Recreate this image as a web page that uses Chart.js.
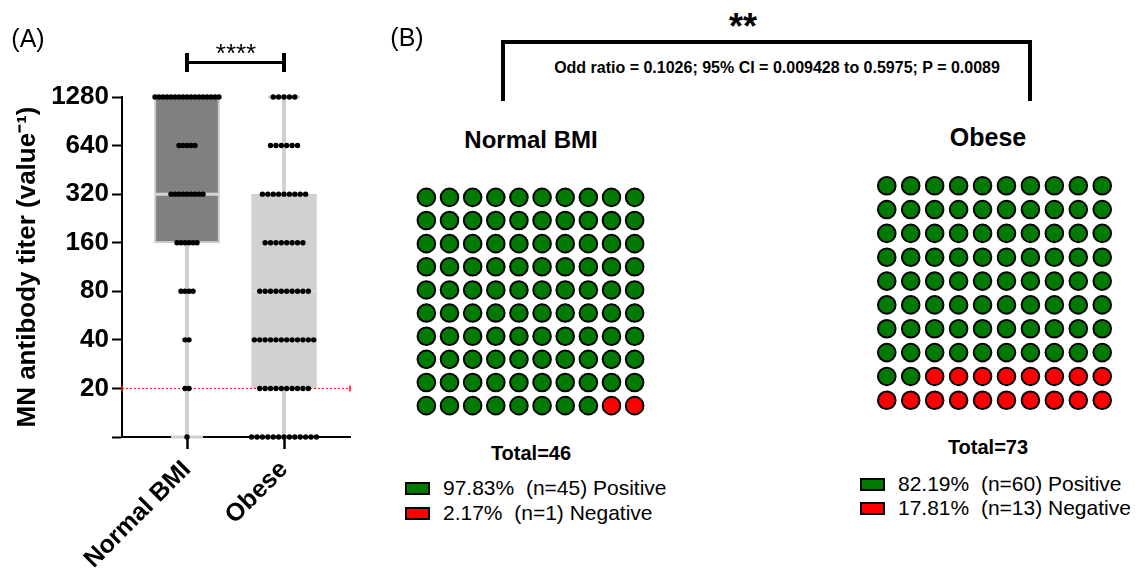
<!DOCTYPE html>
<html>
<head>
<meta charset="utf-8">
<script src="https://cdn.jsdelivr.net/npm/chart.js@4"></script>
<style>
  body { margin: 0; background: #fff; }
  #fig { position: relative; width: 1142px; height: 570px; overflow: hidden; font-family: "Liberation Sans", Arial, sans-serif; color: #000; }
  canvas { position: absolute; }
  .t { position: absolute; white-space: pre; line-height: 1; transform: translate(-50%, -50%); }
  .l { position: absolute; white-space: pre; line-height: 20px; font-size: 21px; }
  .bar { position: absolute; background: #000; }
  .sw { position: absolute; width: 25px; height: 13px; box-sizing: border-box; border: 2px solid #000; }
</style>
</head>
<body>
<div id="fig">
  <canvas id="boxChart" width="370" height="570" style="left:0;top:0"></canvas>
  <canvas id="waffleNormal" width="253" height="253" style="left:404px;top:175px"></canvas>
  <canvas id="waffleObese" width="261" height="260" style="left:864px;top:163px"></canvas>
</div>
<script>
// Panel A: MN titers, number of subjects at each titer level (10 = below 20, drawn on the axis)
const groups = ['Normal BMI', 'Obese'];
const titerLevels = [10, 20, 40, 80, 160, 320, 640, 1280];
const normalCounts = [1, 2, 2, 4, 6, 9, 5, 17];
const obeseCounts = [13, 10, 12, 10, 8, 9, 6, 5];

// box plot summary per group
const boxLow = [160, 20];
const boxMedian = [320, 80];
const boxHigh = [1280, 320];
const whiskerMin = [10, 10];
const whiskerMax = [1280, 1280];

const yTicks = [10, 20, 40, 80, 160, 320, 640, 1280];
const cutoffTiter = 20;

// Panel B: seropositivity
const normalPct = [97.83, 2.17];
const normalN = [45, 1];
const obesePct = [82.19, 17.81];
const obeseN = [60, 13];
const waffleLabels = ['Positive', 'Negative'];
const totals = [46, 73];

const COLORS = {
    dark: '#808080',
    light: '#d1d1d3',
    whisker: '#d0d0d0',
    green: '#007a00',
    red: '#ff0000'
};

const FONT = '"Liberation Sans", Arial, sans-serif';
const X_MIN = 0.33, X_MAX = 2.68;
const PX_PER_X = 228 / (X_MAX - X_MIN);
const dotGapPx = [4, 5.4];

// dots: one row per titer level, centred on the group
function dotRows(counts, gi) {
    const pts = [];
    counts.forEach((n, li) => {
        for (let k = 0; k < n; k++) {
            pts.push({ x: gi + 1 + (k - (n - 1) / 2) * dotGapPx[gi] / PX_PER_X, y: titerLevels[li] });
        }
    });
    return pts;
}

function seg(points, color, width, order) {
    return {
        type: 'line', data: points, borderColor: color, borderWidth: width,
        pointRadius: 0, fill: false, clip: false, order: order
    };
}

const whiskerSets = [];
const capHalf = 0.165;
const boxHalf = 0.335;
groups.forEach((g, i) => {
    const x = i + 1;
    whiskerSets.push(seg([{ x: x, y: whiskerMin[i] }, { x: x, y: boxLow[i] }], COLORS.whisker, 4, 4));
    whiskerSets.push(seg([{ x: x, y: boxHigh[i] }, { x: x, y: whiskerMax[i] }], COLORS.whisker, 4, 4));
    whiskerSets.push(seg([{ x: x - capHalf, y: whiskerMin[i] }, { x: x + capHalf, y: whiskerMin[i] }], COLORS.whisker, 3, 4));
    whiskerSets.push(seg([{ x: x - capHalf, y: whiskerMax[i] }, { x: x + capHalf, y: whiskerMax[i] }], COLORS.whisker, 3, 4));
    whiskerSets.push(seg([{ x: x - boxHalf, y: boxMedian[i] }, { x: x + boxHalf, y: boxMedian[i] }],
        i === 0 ? '#d6d6d6' : '#dcdcde', 3, 3));
});

new Chart(document.getElementById('boxChart'), {
    type: 'bar',
    data: {
        datasets: [
            {
                type: 'bar',
                data: groups.map((g, i) => ({ x: i + 1, y: [boxLow[i], boxHigh[i]] })),
                backgroundColor: [COLORS.dark, COLORS.light],
                borderColor: ['#c8c8c8', COLORS.light],
                borderWidth: 2,
                borderSkipped: false,
                barThickness: 65,
                order: 5
            },
            ...whiskerSets,
            {
                type: 'line',
                data: [{ x: X_MIN, y: cutoffTiter }, { x: X_MAX, y: cutoffTiter }],
                borderColor: COLORS.red,
                borderWidth: 1,
                borderDash: [2, 2],
                pointStyle: 'line',
                rotation: 90,
                pointRadius: 3,
                pointBorderColor: COLORS.red,
                pointBorderWidth: 1.5,
                clip: false,
                order: 2
            },
            {
                type: 'scatter',
                data: dotRows(normalCounts, 0).concat(dotRows(obeseCounts, 1)),
                backgroundColor: '#000',
                borderWidth: 0,
                pointRadius: 2.7,
                clip: false,
                order: 1
            }
        ]
    },
    options: {
        responsive: false,
        animation: false,
        layout: { padding: { top: 97, right: 20, left: 0, bottom: 0 } },
        plugins: { legend: { display: false }, tooltip: { enabled: false } },
        scales: {
            x: {
                type: 'linear',
                min: X_MIN,
                max: X_MAX,
                offset: false,
                afterFit: (scale) => { scale.height = 133; },
                afterBuildTicks: (scale) => { scale.ticks = groups.map((g, i) => ({ value: i + 1 })); },
                grid: { offset: false, drawOnChartArea: false, drawTicks: true, tickLength: 12, tickColor: '#000', tickWidth: 2.5 },
                border: { display: true, color: '#000', width: 2 },
                ticks: {
                    autoSkip: false,
                    minRotation: 45,
                    maxRotation: 45,
                    padding: 6,
                    color: '#000',
                    font: { family: FONT, size: 25, weight: 'bold' },
                    callback: (v) => groups[Math.round(v) - 1]
                }
            },
            y: {
                type: 'logarithmic',
                min: 10,
                max: 1280,
                afterFit: (scale) => { scale.width = 122; },
                afterBuildTicks: (scale) => { scale.ticks = yTicks.map(v => ({ value: v })); },
                grid: { drawOnChartArea: false, drawTicks: true, tickLength: 10, tickColor: '#000', tickWidth: 2 },
                border: { display: true, color: '#000', width: 2 },
                ticks: {
                    padding: 3,
                    color: '#000',
                    font: { family: FONT, size: 26, weight: 'bold' },
                    callback: (v) => (v === 10 ? '' : String(v))
                },
                title: {
                    display: true,
                    text: 'MN antibody titer (value⁻¹)',
                    color: '#000',
                    font: { family: FONT, size: 26, weight: 'bold' },
                    padding: { top: 12, bottom: 0 }
                }
            }
        }
    }
});

// waffle: 100 cells, filled row by row from the top
function waffle(canvasId, pct) {
    const greenCells = Math.round(pct[0]);
    const cells = [];
    const colors = [];
    for (let i = 0; i < 100; i++) {
        cells.push({ x: (i % 10) + 1, y: Math.floor(i / 10) + 1 });
        colors.push(i < greenCells ? COLORS.green : COLORS.red);
    }
    new Chart(document.getElementById(canvasId), {
        type: 'scatter',
        data: {
            datasets: [{
                data: cells,
                backgroundColor: colors,
                borderColor: '#000',
                borderWidth: 2,
                pointRadius: 8.8,
                clip: false
            }]
        },
        options: {
            responsive: false,
            animation: false,
            layout: { padding: 0 },
            plugins: { legend: { display: false }, tooltip: { enabled: false } },
            scales: {
                x: { display: false, min: 0.5, max: 10.5 },
                y: { display: false, min: 0.5, max: 10.5, reverse: true }
            }
        }
    });
}

waffle('waffleNormal', normalPct);
waffle('waffleObese', obesePct);

// text, brackets and legends
const fig = document.getElementById('fig');

function text(str, x, y, size, weight) {
    const d = document.createElement('div');
    d.className = 't';
    d.textContent = str;
    d.style.left = x + 'px';
    d.style.top = y + 'px';
    d.style.fontSize = size + 'px';
    d.style.fontWeight = weight || 'normal';
    fig.appendChild(d);
}

function rule(x, y, w, h) {
    const d = document.createElement('div');
    d.className = 'bar';
    d.style.left = x + 'px';
    d.style.top = y + 'px';
    d.style.width = w + 'px';
    d.style.height = h + 'px';
    fig.appendChild(d);
}

function legendRow(x, y, color, str) {
    const s = document.createElement('div');
    s.className = 'sw';
    s.style.left = x + 'px';
    s.style.top = (y - 6) + 'px';
    s.style.background = color;
    fig.appendChild(s);
    const d = document.createElement('div');
    d.className = 'l';
    d.textContent = str;
    d.style.left = (x + 38) + 'px';
    d.style.top = (y - 10) + 'px';
    fig.appendChild(d);
}

// panel A
text('(A)', 28, 38, 25);
text('****', 236, 53, 26);
rule(187, 61, 97, 3);
rule(185, 53, 4, 19);
rule(282, 53, 4, 19);

// panel B
text('(B)', 407, 37, 25);
text('**', 743, 27, 36, 'bold');
rule(501, 40, 531, 4);
rule(501, 40, 4, 61);
rule(1028, 40, 4, 61);
text('Odd ratio = 0.1026; 95% CI = 0.009428 to 0.5975; P = 0.0089', 777, 68, 16, 'bold');

text(groups[0], 531, 140, 24, 'bold');
text(groups[1], 988, 137, 25, 'bold');
text('Total=' + totals[0], 531, 453, 20, 'bold');
text('Total=' + totals[1], 988, 447, 20, 'bold');

const pctFmt = (p) => p.toFixed(2) + '%';
legendRow(405, 488, COLORS.green, pctFmt(normalPct[0]) + '  (n=' + normalN[0] + ') ' + waffleLabels[0]);
legendRow(405, 513, COLORS.red, pctFmt(normalPct[1]) + '  (n=' + normalN[1] + ') ' + waffleLabels[1]);
legendRow(860, 484, COLORS.green, pctFmt(obesePct[0]) + '  (n=' + obeseN[0] + ') ' + waffleLabels[0]);
legendRow(860, 508, COLORS.red, pctFmt(obesePct[1]) + '  (n=' + obeseN[1] + ') ' + waffleLabels[1]);
</script>
</body>
</html>
